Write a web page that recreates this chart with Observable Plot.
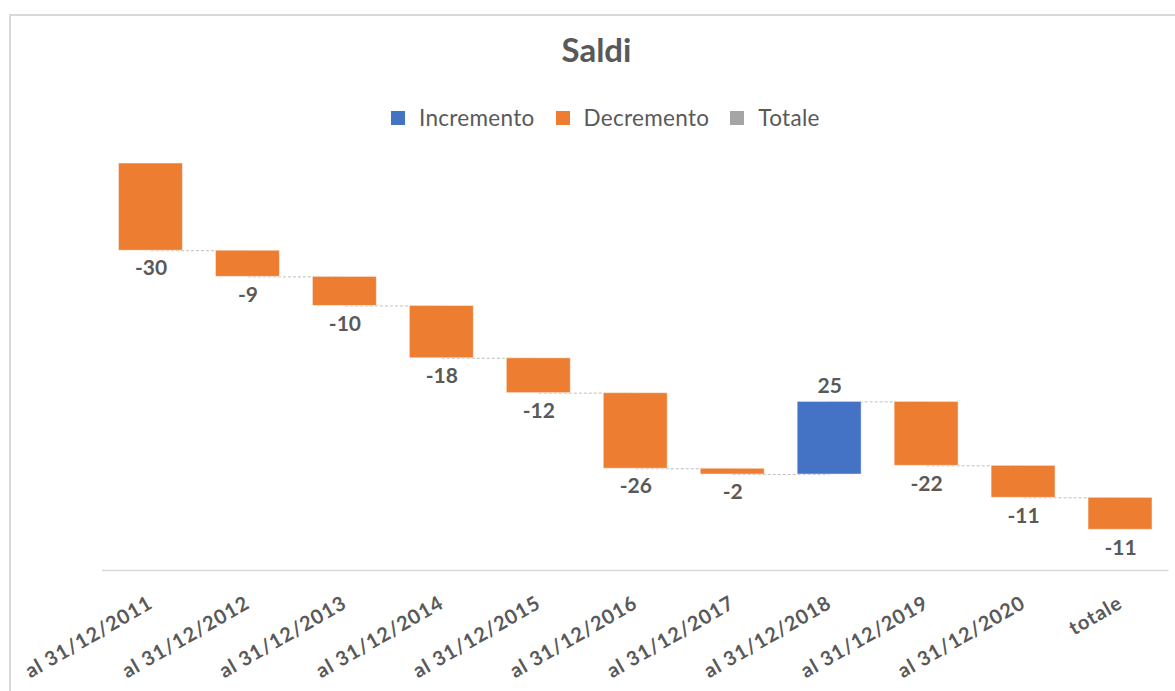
<!DOCTYPE html>
<html><head><meta charset="utf-8">
<script src="https://cdn.jsdelivr.net/npm/d3@7"></script>
<script src="https://cdn.jsdelivr.net/npm/@observablehq/plot@0.6"></script>
<style>
body{margin:0;background:#fff;font-family:Lato,"Open Sans",sans-serif;}
#wrap{position:relative;width:1175px;height:691px;overflow:hidden;background:#fff;}
#frame{position:absolute;left:9px;top:14px;width:2000px;height:2000px;border:2px solid #d9d9d9;box-sizing:border-box;}
#title{position:absolute;top:29px;left:0;width:1193px;text-align:center;font-size:33px;font-weight:bold;color:#595959;line-height:40px;}
#legend{position:absolute;top:104px;left:391px;display:flex;align-items:center;font-size:22.5px;letter-spacing:0.3px;color:#595959;white-space:nowrap;line-height:28px;}
.item{display:flex;align-items:center;margin-right:21px;}
.sw{width:14px;height:14px;margin-right:14px;}
#chart{position:absolute;left:0;top:140px;}
#chart svg g[aria-label="x-axis tick label"] text{letter-spacing:0.9px;}
</style>
</head><body>
<div id="wrap">
  <div id="frame"></div>
  <div id="title">Saldi</div>
  <div id="legend"></div>
  <div id="chart"></div>
</div>
<script>
const categories = ["al 31/12/2011","al 31/12/2012","al 31/12/2013","al 31/12/2014","al 31/12/2015","al 31/12/2016","al 31/12/2017","al 31/12/2018","al 31/12/2019","al 31/12/2020","totale"];
const values = [-30,-9,-10,-18,-12,-26,-2,25,-22,-11,-11];
const seriesNames = ["Incremento","Decremento","Totale"];
const seriesColors = ["#4472C4","#ED7D31","#A5A5A5"];

const ends = Array.from(d3.cumsum(values));
const rows = categories.map((c,i)=>({cat:c, value:values[i], start: i ? ends[i-1] : 0, end: ends[i], kind: values[i] >= 0 ? "Incremento" : "Decremento"}));
const links = rows.slice(0,-1).map((r,i)=>({a:r.cat, b:rows[i+1].cat, level:r.end}));

const legend = document.getElementById("legend");
seriesNames.forEach((n,i)=>{
  const it = document.createElement("div"); it.className="item";
  const sw = document.createElement("div"); sw.className="sw"; sw.style.background=seriesColors[i];
  const t = document.createElement("span"); t.textContent=n;
  it.appendChild(sw); it.appendChild(t); legend.appendChild(it);
});

const chart = Plot.plot({
  width:1175, height:551,
  marginLeft:102, marginRight:6.5, marginTop:23, marginBottom:121,
  x:{domain:categories, paddingInner:0.34, paddingOuter:0.17, round:false, label:null, tickSize:0, tickRotate:-30, tickPadding:31},
  y:{domain:[-140,0], axis:null},
  color:{domain:seriesNames, range:seriesColors},
  style:{fontFamily:"Lato, 'Open Sans', sans-serif", fontSize:"20px", fontWeight:"bold", color:"#595959", background:"transparent"},
  marks:[
    Plot.ruleY([-140],{stroke:"#d9d9d9", strokeWidth:1.5}),
    Plot.link(links,{x1:"a", x2:"b", y1:"level", y2:"level", stroke:"#bfbfbf", strokeDasharray:"3,2", strokeWidth:1}),
    Plot.barY(rows,{x:"cat", y1:"start", y2:"end", fill:"kind", stroke:"#ffffff", strokeOpacity:0.5, strokeWidth:1}),
    Plot.text(rows.filter(d=>d.value<0),{x:"cat", y:"end", text:d=>String(d.value), dy:18, fill:"#595959", fontSize:21, fontWeight:"bold"}),
    Plot.text(rows.filter(d=>d.value>=0),{x:"cat", y:"end", text:d=>String(d.value), dy:-16, fill:"#595959", fontSize:21, fontWeight:"bold"})
  ]
});
document.getElementById("chart").appendChild(chart);
</script>
</body></html>
